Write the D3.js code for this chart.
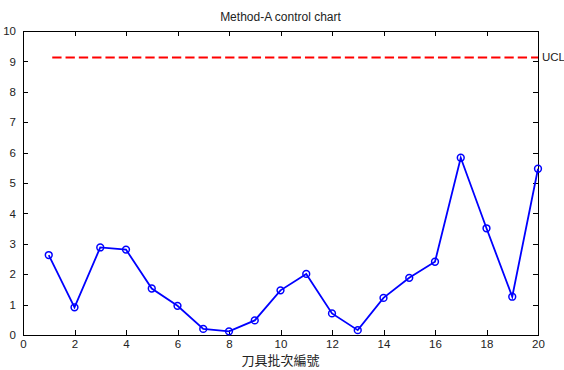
<!DOCTYPE html>
<html>
<head>
<meta charset="utf-8">
<script src="https://cdn.jsdelivr.net/npm/d3@7"></script>
<style>
  body { margin: 0; background: #fff; }
  text { font-family: "Liberation Sans", Arial, sans-serif; }
</style>
</head>
<body>
<div id="chart"></div>
<script>
// data
var batches = [1,2,3,4,5,6,7,8,9,10,11,12,13,14,15,16,17,18,19,20]
var values = [2.63,0.91,2.88,2.81,1.53,0.96,0.20,0.12,0.48,1.47,2.01,0.71,0.16,1.22,1.88,2.41,5.83,3.51,1.26,5.47]
var uclValue = 9.13
var xTicks = [0,2,4,6,8,10,12,14,16,18,20]
var yTicks = [0,1,2,3,4,5,6,7,8,9,10]
var titleText = "Method-A control chart"
var xLabelText = "刀具批次編號"

var width = 564, height = 370
var margin = {top: 31, right: 26, bottom: 35, left: 23}

var svg = d3.select("#chart").append("svg")
  .attr("width", width)
  .attr("height", height)

var x = d3.scaleLinear().domain([0, 20]).range([margin.left, width - margin.right])
var y = d3.scaleLinear().domain([0, 10]).range([height - margin.bottom, margin.top])

// axes, ticks pointing inward on all four sides (matlab box)
var tickLen = 5
var xAxisB = d3.axisBottom(x).tickValues(xTicks).tickSizeInner(-tickLen).tickSizeOuter(0).tickPadding(5)
var xAxisT = d3.axisTop(x).tickValues(xTicks).tickSizeInner(-tickLen).tickSizeOuter(0).tickFormat("")
var yAxisL = d3.axisLeft(y).tickValues(yTicks).tickSizeInner(-tickLen).tickSizeOuter(0).tickPadding(7)
var yAxisR = d3.axisRight(y).tickValues(yTicks).tickSizeInner(-tickLen).tickSizeOuter(0).tickFormat("")

function styleAxis(g){
  g.selectAll("path").attr("stroke", "#000").attr("stroke-width", 1).attr("shape-rendering", "crispEdges")
  g.selectAll("line").attr("stroke", "#000").attr("shape-rendering", "crispEdges")
  g.selectAll("text").attr("fill", "#222").style("font-size", "11.5px").style("font-family", "'Liberation Sans', Arial, sans-serif")
}

svg.append("g").attr("transform", "translate(0," + y(0) + ")").call(xAxisB).call(styleAxis)
svg.append("g").attr("transform", "translate(0," + y(10) + ")").call(xAxisT).call(styleAxis)
svg.append("g").attr("transform", "translate(" + x(0) + ",0)").call(yAxisL).call(styleAxis)
svg.append("g").attr("transform", "translate(" + x(20) + ",0)").call(yAxisR).call(styleAxis)

// UCL dashed line
svg.append("line")
  .attr("x1", x(batches[0]))
  .attr("x2", x(batches[batches.length - 1]))
  .attr("y1", y(uclValue))
  .attr("y2", y(uclValue))
  .attr("stroke", "#ff0000")
  .attr("stroke-width", 2)
  .attr("stroke-dasharray", "9.3,4")
  .attr("stroke-dashoffset", 9.8)

svg.append("text")
  .attr("x", x(20) + 4)
  .attr("y", y(uclValue))
  .attr("dy", "0.35em")
  .style("font-size", "11.5px")
  .attr("fill", "#222")
  .text("UCL")

// data line
var line = d3.line()
  .x(function(d, i){ return x(batches[i]) })
  .y(function(d){ return y(d) })

svg.append("path")
  .datum(values)
  .attr("d", line)
  .attr("fill", "none")
  .attr("stroke", "#0000ff")
  .attr("stroke-width", 1.8)

svg.selectAll("circle.pt")
  .data(values)
  .enter().append("circle")
  .attr("class", "pt")
  .attr("cx", function(d, i){ return x(batches[i]) })
  .attr("cy", function(d){ return y(d) })
  .attr("r", 3.4)
  .attr("fill", "none")
  .attr("stroke", "#0000ff")
  .attr("stroke-width", 1.5)

// title and x label
svg.append("text")
  .attr("x", (x(0) + x(20)) / 2)
  .attr("y", 21)
  .attr("text-anchor", "middle")
  .style("font-size", "12px")
  .attr("fill", "#222")
  .text(titleText)

svg.append("text")
  .attr("x", (x(0) + x(20)) / 2)
  .attr("y", 365)
  .attr("text-anchor", "middle")
  .style("font-size", "13px")
  .style("font-family", "'Noto Sans CJK TC', 'Noto Sans CJK SC', sans-serif")
  .attr("fill", "#222")
  .text(xLabelText)
</script>
</body>
</html>
